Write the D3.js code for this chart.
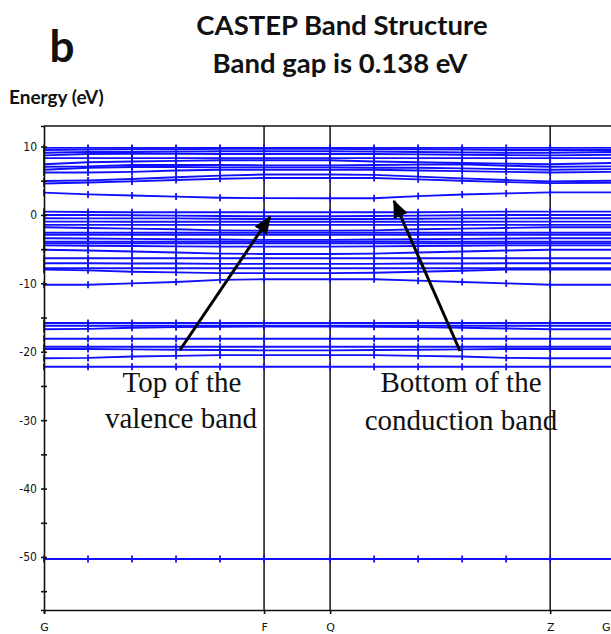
<!DOCTYPE html>
<html><head><meta charset="utf-8">
<script src="https://cdn.jsdelivr.net/npm/d3@7/dist/d3.min.js"></script>
<style>body{margin:0;background:#fff}svg{display:block}</style>
</head><body>
<svg id="c" width="611" height="634"></svg>
<script>
// k-path positions (arbitrary path units) of the computed k-points
const kPoints = [0, 1, 2, 3, 4, 5, 6.5, 7.5, 8.5, 9.5, 10.5, 11.5, 12.95];
// high-symmetry labels and positions
const symLabels = ["G", "F", "Q", "Z", "G"];
const symPos = [0, 5, 6.5, 11.5, 12.95];
// y tick values (eV)
const yTicks = [-55, -50, -45, -40, -35, -30, -25, -20, -15, -10, -5, 0, 5, 10];
const yLabelTicks = [-50, -40, -30, -20, -10, 0, 10];

// band energies (eV) at each k-point
const conductionBands = [
  [9.8, 9.8, 9.8, 9.8, 9.8, 9.8, 9.8, 9.8, 9.8, 9.8, 9.8, 9.8, 9.8],
  [9.5, 9.55, 9.6, 9.6, 9.65, 9.65, 9.65, 9.6, 9.6, 9.55, 9.5, 9.5, 9.5],
  [9.1, 9.2, 9.2, 9.25, 9.3, 9.3, 9.3, 9.25, 9.2, 9.15, 9.1, 9.1, 9.2],
  [8.7, 8.9, 8.95, 8.95, 8.9, 8.9, 8.9, 8.9, 8.85, 8.8, 8.75, 8.7, 8.8],
  [8.3, 8.3, 8.3, 8.3, 8.3, 8.3, 8.3, 8.3, 8.3, 8.3, 8.3, 8.3, 8.3],
  [7.4, 7.7, 7.8, 7.9, 8.0, 8.0, 8.0, 7.8, 7.7, 7.6, 7.5, 7.4, 7.6],
  [7.05, 7.1, 7.3, 7.3, 7.3, 7.25, 7.25, 7.3, 7.35, 7.4, 7.2, 7.05, 7.1],
  [6.6, 6.9, 7.0, 7.0, 6.95, 6.95, 6.95, 6.9, 6.9, 6.8, 6.7, 6.6, 6.7],
  [6.2, 6.2, 6.3, 6.5, 6.6, 6.6, 6.6, 6.6, 6.5, 6.4, 6.3, 6.2, 6.3],
  [4.95, 5.05, 5.25, 5.5, 5.75, 5.9, 5.9, 5.85, 5.6, 5.35, 5.1, 4.9, 5.0],
  [4.6, 4.75, 4.9, 5.1, 5.3, 5.4, 5.4, 5.4, 5.2, 5.0, 4.8, 4.65, 4.7],
  [3.26, 3.0, 2.85, 2.68, 2.52, 2.45, 2.44, 2.44, 2.75, 2.98, 3.15, 3.3, 3.3]
];
const valenceBands = [
  [0.48, 0.42, 0.4, 0.4, 0.4, 0.4, 0.4, 0.4, 0.4, 0.45, 0.48, 0.48, 0.48],
  [0.0, 0.0, -0.05, -0.1, -0.15, -0.2, -0.2, -0.15, -0.1, -0.05, 0.0, 0.0, 0.0],
  [-0.48, -0.5, -0.5, -0.5, -0.55, -0.6, -0.6, -0.6, -0.55, -0.5, -0.5, -0.48, -0.48],
  [-0.98, -0.98, -1.0, -1.0, -1.0, -1.0, -1.0, -1.0, -1.0, -1.0, -0.98, -0.98, -0.98],
  [-1.46, -1.46, -1.46, -1.46, -1.46, -1.46, -1.46, -1.46, -1.46, -1.46, -1.46, -1.46, -1.46],
  [-1.8, -1.9, -2.0, -2.1, -2.25, -2.3, -2.3, -2.25, -2.1, -2.0, -1.9, -1.8, -1.8],
  [-2.6, -2.6, -2.6, -2.6, -2.6, -2.6, -2.6, -2.6, -2.6, -2.6, -2.6, -2.6, -2.6],
  [-2.92, -2.92, -2.92, -2.92, -2.92, -2.92, -2.92, -2.92, -2.92, -2.92, -2.92, -2.92, -2.92],
  [-3.4, -3.45, -3.5, -3.55, -3.6, -3.65, -3.65, -3.6, -3.55, -3.5, -3.45, -3.4, -3.4],
  [-3.9, -3.9, -3.9, -3.9, -3.9, -3.9, -3.9, -3.9, -3.9, -3.9, -3.9, -3.9, -3.9],
  [-4.14, -4.14, -4.14, -4.14, -4.14, -4.14, -4.14, -4.14, -4.14, -4.14, -4.14, -4.14, -4.14],
  [-4.45, -4.5, -4.55, -4.6, -4.63, -4.63, -4.63, -4.6, -4.55, -4.5, -4.45, -4.45, -4.45],
  [-5.1, -5.2, -5.35, -5.5, -5.65, -5.7, -5.7, -5.65, -5.5, -5.35, -5.2, -5.1, -5.1],
  [-6.33, -6.33, -6.33, -6.33, -6.33, -6.33, -6.33, -6.33, -6.33, -6.33, -6.33, -6.33, -6.33],
  [-7.06, -7.06, -7.1, -7.1, -7.15, -7.16, -7.16, -7.15, -7.1, -7.1, -7.06, -7.06, -7.06],
  [-7.8, -7.8, -7.8, -7.8, -7.8, -7.8, -7.8, -7.8, -7.8, -7.8, -7.8, -7.8, -7.8],
  [-8.0, -8.1, -8.3, -8.4, -8.5, -8.5, -8.5, -8.45, -8.3, -8.15, -8.0, -8.0, -8.0],
  [-10.2, -10.2, -10.0, -9.8, -9.5, -9.4, -9.4, -9.4, -9.6, -9.8, -10.0, -10.2, -10.2]
];
const semicoreBands = [
  [-15.8, -15.8, -15.8, -15.8, -15.8, -15.8, -15.8, -15.8, -15.8, -15.8, -15.8, -15.8, -15.8],
  [-16.2, -16.2, -16.2, -16.2, -16.2, -16.2, -16.2, -16.2, -16.2, -16.2, -16.2, -16.2, -16.2],
  [-16.7, -16.65, -16.5, -16.4, -16.35, -16.3, -16.3, -16.35, -16.4, -16.5, -16.6, -16.7, -16.7],
  [-18.1, -18.1, -18.1, -18.1, -18.1, -18.1, -18.1, -18.1, -18.1, -18.1, -18.1, -18.1, -18.1],
  [-19.26, -19.26, -19.26, -19.26, -19.26, -19.26, -19.26, -19.26, -19.26, -19.26, -19.26, -19.26, -19.26],
  [-19.6, -19.6, -19.65, -19.7, -19.75, -19.8, -19.8, -19.75, -19.7, -19.65, -19.6, -19.6, -19.6],
  [-20.95, -20.9, -20.7, -20.6, -20.5, -20.5, -20.5, -20.5, -20.6, -20.7, -20.9, -20.95, -20.95],
  [-22.2, -22.2, -22.2, -22.2, -22.2, -22.2, -22.2, -22.2, -22.2, -22.2, -22.2, -22.2, -22.2]
];
const coreBands = [
  [-50.3, -50.3, -50.3, -50.3, -50.3, -50.3, -50.3, -50.3, -50.3, -50.3, -50.3, -50.3, -50.3]
];
const allBands = [...conductionBands, ...valenceBands, ...semicoreBands, ...coreBands];

const svg = d3.select("#c");
const x = d3.scaleLinear().domain([0, 12.95]).range([44, 614]);
const y = d3.scaleLinear().domain([-57.75, 13]).range([610, 126]);

// high symmetry vertical lines
svg.append("g").selectAll("line").data(symPos.slice(1, 4)).join("line")
  .attr("x1", d => x(d)).attr("x2", d => x(d))
  .attr("y1", y(13)).attr("y2", y(-57.75))
  .attr("stroke", "#111").attr("stroke-width", 1.5);
// top border
svg.append("line").attr("x1", x(0)).attr("x2", 611).attr("y1", y(13)).attr("y2", y(13))
  .attr("stroke", "#111").attr("stroke-width", 1.5);

// bands
const line = d3.line().x((d, i) => x(kPoints[i])).y(d => y(d));
const bandG = svg.append("g");
bandG.selectAll("path").data(allBands).join("path")
  .attr("d", line).attr("fill", "none")
  .attr("stroke", "#1010ff").attr("stroke-width", 1.9);
// k-point markers
const markers = [];
allBands.forEach(b => b.forEach((v, i) => markers.push([kPoints[i], v])));
bandG.selectAll("line.m").data(markers).join("line").attr("class", "m")
  .attr("x1", d => x(d[0])).attr("x2", d => x(d[0]))
  .attr("y1", d => y(d[1]) - 3.5).attr("y2", d => y(d[1]) + 3.5)
  .attr("stroke", "#1010ff").attr("stroke-width", 1.8);

// y axis
const yAxis = svg.append("g").attr("transform", `translate(${x(0)},0)`)
  .call(d3.axisLeft(y).tickValues(yTicks)
    .tickFormat(d => yLabelTicks.includes(d) ? String(d) : "")
    .tickSize(3).tickPadding(4));
yAxis.select(".domain").attr("stroke", "#111").attr("stroke-width", 1.6);
yAxis.selectAll(".tick line").attr("x1", -3).attr("x2", 3).attr("stroke", "#111").attr("stroke-width", 1.6);
yAxis.selectAll(".tick text").attr("font-family", "'Liberation Sans Narrow','DejaVu Sans Condensed',sans-serif")
  .attr("font-size", 12).attr("fill", "#111");

// x axis
const xAxis = svg.append("g").attr("transform", `translate(0,${y(-57.75)})`)
  .call(d3.axisBottom(x).tickValues(symPos).tickFormat((d, i) => symLabels[i]).tickSize(4).tickPadding(9));
xAxis.select(".domain").attr("stroke", "#111").attr("stroke-width", 1.6);
xAxis.selectAll(".tick line").attr("stroke", "#111").attr("stroke-width", 1.6);
xAxis.selectAll(".tick text").attr("font-family", "'DejaVu Sans',sans-serif")
  .attr("font-size", 11).attr("fill", "#111");
// keep the final label inside the picture
xAxis.selectAll(".tick text").filter((d, i) => i === symPos.length - 1)
  .attr("text-anchor", "end").attr("dx", -4);

// titles
const titleFont = "Lato, 'Open Sans', sans-serif";
svg.append("text").attr("x", 342).attr("y", 35).attr("text-anchor", "middle")
  .attr("font-family", titleFont).attr("font-weight", "bold")
  .attr("font-size", 27.5).attr("fill", "#111").text("CASTEP Band Structure");
svg.append("text").attr("x", 340).attr("y", 73).attr("text-anchor", "middle")
  .attr("font-family", titleFont).attr("font-weight", "bold")
  .attr("font-size", 27.5).attr("fill", "#111").text("Band gap is 0.138 eV");
svg.append("text").attr("x", 62).attr("y", 62).attr("text-anchor", "middle")
  .attr("font-family", titleFont).attr("font-weight", "bold")
  .attr("font-size", 44).attr("fill", "#111").text("b");
svg.append("text").attr("x", 9).attr("y", 104)
  .attr("font-family", titleFont).attr("font-weight", "bold")
  .attr("font-size", 19).attr("fill", "#111").text("Energy (eV)");

// annotations
const ann = [
  {t: "Top of the", cx: 182, y: 392},
  {t: "valence band", cx: 181, y: 428},
  {t: "Bottom of the", cx: 461, y: 392},
  {t: "conduction band", cx: 461, y: 430}
];
svg.append("g").selectAll("text").data(ann).join("text")
  .attr("x", d => d.cx).attr("y", d => d.y).attr("text-anchor", "middle")
  .attr("font-family", "'Liberation Serif', serif").attr("font-size", 29).attr("fill", "#111")
  .text(d => d.t);

// arrows
const defs = svg.append("defs");
defs.append("marker").attr("id", "ah").attr("viewBox", "0 0 12 10")
  .attr("refX", 11).attr("refY", 5).attr("markerWidth", 6).attr("markerHeight", 5)
  .attr("markerUnits", "strokeWidth").attr("orient", "auto")
  .append("path").attr("d", "M0,0 L12,5 L0,10 Z").attr("fill", "#000");
const arrows = [
  {x1: 180, y1: 350, x2: 270, y2: 217},
  {x1: 460, y1: 351, x2: 394, y2: 201}
];
svg.append("g").selectAll("line").data(arrows).join("line")
  .attr("x1", d => d.x1).attr("y1", d => d.y1).attr("x2", d => d.x2).attr("y2", d => d.y2)
  .attr("stroke", "#000").attr("stroke-width", 3).attr("marker-end", "url(#ah)");
</script>
</body></html>
